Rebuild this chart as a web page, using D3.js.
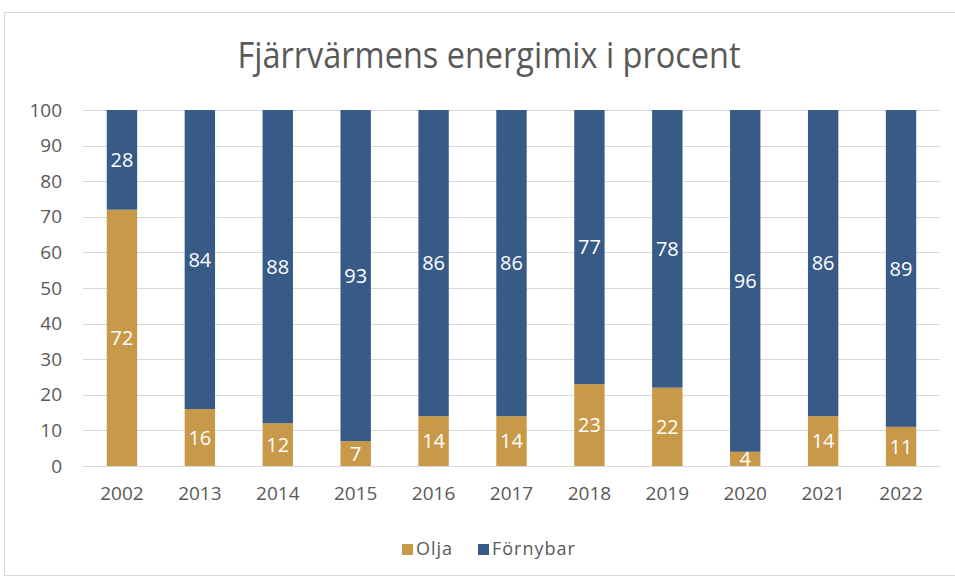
<!DOCTYPE html>
<html>
<head>
<meta charset="utf-8">
<script src="https://cdn.jsdelivr.net/npm/d3@7"></script>
<style>
  body { margin: 0; background: #fff; }
  svg { display: block; }
</style>
</head>
<body>
<svg id="chart"></svg>
<script>
// Data
const years = ['2002', '2013', '2014', '2015', '2016', '2017', '2018', '2019', '2020', '2021', '2022'];
const olja = [72, 16, 12, 7, 14, 14, 23, 22, 4, 14, 11];
const fornybar = [28, 84, 88, 93, 86, 86, 77, 78, 96, 86, 89];
const seriesNames = ['Olja', 'Förnybar'];
const yTicks = [0, 10, 20, 30, 40, 50, 60, 70, 80, 90, 100];

const width = 955;
const height = 580;
const margin = { top: 110, right: 15, bottom: 114, left: 83 };
const colors = { Olja: '#C9994A', 'Förnybar': '#375A87' };
const font = '"Open Sans", sans-serif';
const titleFont = '"Liberation Sans Narrow", "Open Sans", sans-serif';

const svg = d3.select('#chart').attr('width', width).attr('height', height);

// chart frame
svg.append('rect')
  .attr('x', 4.5).attr('y', 12.5)
  .attr('width', 960).attr('height', 563)
  .attr('fill', 'white').attr('stroke', '#d9d9d9');

const table = years.map((y, i) => ({ year: y, Olja: olja[i], 'Förnybar': fornybar[i] }));
const stacked = d3.stack().keys(seriesNames)(table);

const x = d3.scaleBand().domain(years).range([margin.left, width - margin.right]).paddingInner(0.61).paddingOuter(0.305);
const y = d3.scaleLinear().domain([0, 100]).range([height - margin.bottom, margin.top]);

// gridlines
svg.append('g')
  .selectAll('line')
  .data(yTicks)
  .join('line')
  .attr('x1', margin.left).attr('x2', width - margin.right)
  .attr('y1', d => Math.round(y(d)) + 0.5).attr('y2', d => Math.round(y(d)) + 0.5)
  .attr('stroke', '#d9d9d9');

// y axis labels
const yAxis = d3.axisLeft(y).tickValues(yTicks).tickSize(0).tickPadding(21);
svg.append('g')
  .attr('transform', `translate(${margin.left},0)`)
  .call(yAxis)
  .call(g => g.select('.domain').remove())
  .selectAll('text')
  .attr('font-family', font).attr('font-size', 19).attr('fill', '#595959');

// x axis labels
const xAxis = d3.axisBottom(x).tickSize(0).tickPadding(21);
svg.append('g')
  .attr('transform', `translate(0,${height - margin.bottom})`)
  .call(xAxis)
  .call(g => g.select('.domain').remove())
  .selectAll('text')
  .attr('font-family', font).attr('font-size', 19).attr('fill', '#595959');

// bars
const layers = svg.append('g')
  .selectAll('g')
  .data(stacked)
  .join('g')
  .attr('fill', d => colors[d.key]);

layers.selectAll('rect')
  .data(d => d)
  .join('rect')
  .attr('x', d => x(d.data.year))
  .attr('y', d => y(d[1]))
  .attr('width', x.bandwidth())
  .attr('height', d => y(d[0]) - y(d[1]));

// value labels
layers.selectAll('text')
  .data(d => d)
  .join('text')
  .attr('x', d => x(d.data.year) + x.bandwidth() / 2)
  .attr('y', d => (y(d[0]) + y(d[1])) / 2)
  .attr('dy', '0.36em')
  .attr('text-anchor', 'middle')
  .attr('font-family', font).attr('font-size', 20)
  .attr('fill', 'white')
  .text(d => d[1] - d[0]);

// title
svg.append('text')
  .attr('x', 489).attr('y', 68)
  .attr('text-anchor', 'middle')
  .attr('font-family', titleFont).attr('font-size', 37)
  .attr('fill', '#595959')
  .attr('textLength', 503)
  .attr('lengthAdjust', 'spacingAndGlyphs')
  .text('Fjärrvärmens energimix i procent');

// legend
const legend = svg.append('g').attr('transform', 'translate(402,549)');
const legendX = [0, 76];
seriesNames.forEach((name, i) => {
  const item = legend.append('g').attr('transform', `translate(${legendX[i]},0)`);
  item.append('rect').attr('x', 0).attr('y', -5).attr('width', 11).attr('height', 11).attr('fill', colors[name]);
  item.append('text').attr('x', 14).attr('y', 0).attr('dy', '0.36em')
    .attr('font-family', font).attr('font-size', 18).attr('fill', '#595959')
    .attr('letter-spacing', 1)
    .text(name);
});
</script>
</body>
</html>
